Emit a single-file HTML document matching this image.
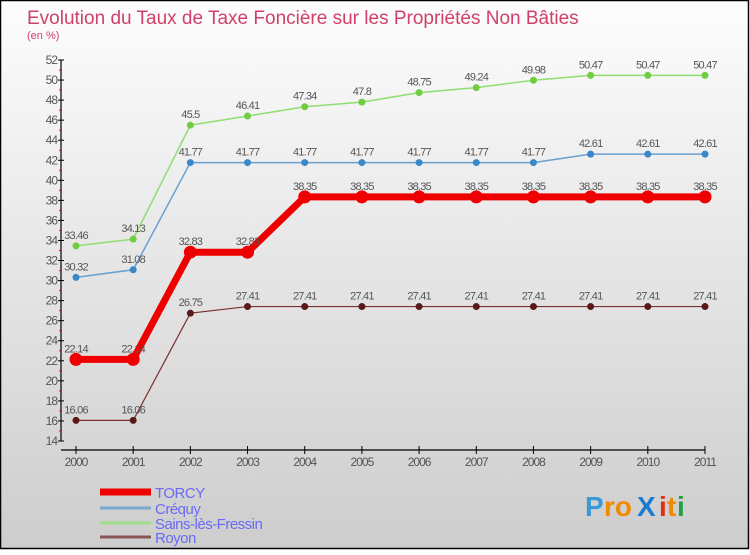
<!DOCTYPE html>
<html><head><meta charset="utf-8"><style>
body{margin:0}
#c{width:750px;height:550px;position:relative;font-family:"Liberation Sans",sans-serif}
</style></head><body>
<div id="c">
<svg id="s" width="750" height="550" xmlns="http://www.w3.org/2000/svg">
<defs><linearGradient id="bg" x1="0" y1="0" x2="0" y2="1"><stop offset="0" stop-color="#fdfdfd"/><stop offset="1" stop-color="#cdcdcd"/></linearGradient></defs>
<rect x="0.5" y="0.5" width="748" height="548" fill="url(#bg)" stroke="#000" stroke-width="1.5"/>
<text x="27" y="24" font-size="19" fill="#d0406a">Evolution du Taux de Taxe Foncière sur les Propriétés Non Bâties</text>
<text x="27" y="39" font-size="11" fill="#d0406a">(en %)</text>
<g id="axes"></g><g id="series"></g><g id="legend"></g>
<g font-size="28" font-weight="bold">
<text x="585" y="516" fill="#3a9ad8">P</text><text x="604" y="516" fill="#f08a00">ro</text><text x="637" y="516" fill="#1a7ad0">X</text><text x="659" y="516" fill="#e03010">i</text><text x="667" y="516" fill="#f08a00">t</text><text x="677" y="516" fill="#20a040">i</text>
</g>
</svg></div>
<script>
const years=["2000","2001","2002","2003","2004","2005","2006","2007","2008","2009","2010","2011"];
const torcy=[22.14,22.14,32.83,32.83,38.35,38.35,38.35,38.35,38.35,38.35,38.35,38.35];
const crequy=[30.32,31.08,41.77,41.77,41.77,41.77,41.77,41.77,41.77,42.61,42.61,42.61];
const sains=[33.46,34.13,45.5,46.41,47.34,47.8,48.75,49.24,49.98,50.47,50.47,50.47];
const royon=[16.06,16.06,26.75,27.41,27.41,27.41,27.41,27.41,27.41,27.41,27.41,27.41];
const yTicks=[14,16,18,20,22,24,26,28,30,32,34,36,38,40,42,44,46,48,50,52];
const NS="http://www.w3.org/2000/svg";
const X=i=>76+i*(705-76)/11;
const Y=v=>60+(52-v)*(441-60)/38;
function mk(tag,attrs,parent,txt){const e=document.createElementNS(NS,tag);for(const k in attrs)e.setAttribute(k,attrs[k]);if(txt!==undefined)e.textContent=txt;parent.appendChild(e);return e;}
const ax=document.getElementById('axes');
let l=mk('line',{x1:61,y1:Y(52),x2:61,y2:Y(14),stroke:'#000','stroke-width':1.2},ax);


yTicks.forEach(v=>{
 mk('line',{x1:58,y1:Y(v),x2:64,y2:Y(v),stroke:'#000'},ax);
 if(v<52)mk('line',{x1:59,y1:Y(v+1),x2:62,y2:Y(v+1),stroke:'#f00'},ax);
 const t=mk('text',{x:57,y:Y(v)+4,'font-size':12,fill:'#555','text-anchor':'end','letter-spacing':'-1'},ax,v);
 
 
});
l=mk('line',{x1:61,y1:450,x2:705,y2:450,stroke:'#000','stroke-width':1.2},ax);


years.forEach((y,i)=>{
 mk('line',{x1:X(i),y1:446,x2:X(i),y2:454,stroke:'#000'},ax);
 const t=mk('text',{x:X(i),y:466,'font-size':12,fill:'#555','text-anchor':'middle','letter-spacing':'-1'},ax,y);
 
 
});
const sg=document.getElementById('series');
const defs=[
 {name:'royon',data:royon,color:'#7a3030',pt:'#5a1818',w:1.2,r:3.5},
 {name:'sains',data:sains,color:'#90dd70',pt:'#70cc40',w:1.5,r:3.5},
 {name:'crequy',data:crequy,color:'#6aa0d0',pt:'#3a88c8',w:1.5,r:3.5},
 {name:'torcy',data:torcy,color:'#ee0000',pt:'#ee0000',w:7,r:6.5}
];
defs.forEach(d=>{
 const g=mk('g',{},sg);
 
 
 const p=mk('polyline',{points:d.data.map((v,i)=>X(i)+','+Y(v)).join(' '),fill:'none',stroke:d.color,'stroke-width':d.w},g);
 
 
 d.data.forEach((v,i)=>{
  const c=mk('circle',{cx:X(i),cy:Y(v),r:d.r,fill:d.pt},g);
  
  
  const t=mk('text',{x:X(i),y:Y(v)-7,'font-size':11,fill:'#555','text-anchor':'middle','letter-spacing':'-0.8'},g,String(v));
  
  
 });
});
const lg=document.getElementById('legend');
[['TORCY','#ee0000',7,492],['Créquy','#7aaad0',3,508],['Sains-lès-Fressin','#a0dd88',3,523],['Royon','#8a5555',3,537]].forEach(e=>{
 const g=mk('g',{},lg);
 
 
 mk('line',{x1:100,y1:e[3],x2:151,y2:e[3],stroke:e[1],'stroke-width':e[2]},g);
 mk('text',{x:155,y:e[3]+6,'font-size':15,fill:'#6a6af8','letter-spacing':'-0.5'},g,e[0]);
});
</script>
</body></html>
